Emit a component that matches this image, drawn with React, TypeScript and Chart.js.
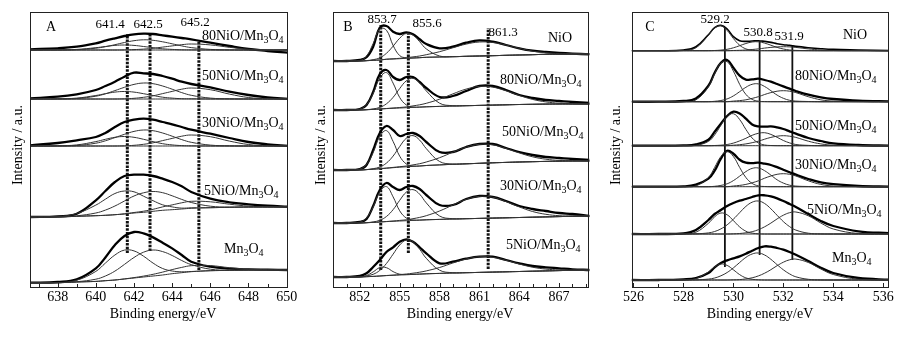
import React, { useEffect, useRef } from "react";
import { Chart, registerables } from "chart.js";
Chart.register(...registerables);

const FONT = "'Liberation Serif', 'Times New Roman', serif";

// ---------------- Panel A : Mn 2p ----------------
const GRID_A = [636.55, 638, 639, 640, 640.5, 641, 641.5, 642, 642.5, 643, 643.5, 644, 644.5, 645, 646, 647, 648, 649, 650.1];
const TICKS_A = [638, 640, 642, 644, 646, 648, 650];
const NAMES_A = ["80NiO/Mn3O4", "50NiO/Mn3O4", "30NiO/Mn3O4", "5NiO/Mn3O4", "Mn3O4"];
const OFFSET_A = [237, 188, 141, 70, 4.3];
const PEAKS_A = ["641.4", "642.5", "645.2"];
const LINE_X_A = [641.65, 642.84, 645.4];
const LINE_LO_A = [34, 36, 17];
const LINE_HI_A = [253, 252, 247];

const A80_DATA = [0.7, 1.7, 3.3, 6.7, 9.3, 11.7, 14, 15.7, 16.3, 16, 14.7, 13.3, 12, 10.7, 7.3, 4, 1, -1, -2.7];
const A80_C1 = [0, 0.1, 0.6, 2.3, 3.5, 4.6, 5, 4.6, 3.5, 2.3, 1.2, 0.6, 0.2, 0.1, 0, 0, 0, 0, 0];
const A80_C2 = [0, 0, 0.3, 1.8, 3.3, 5.3, 7.5, 9.3, 10.2, 9.7, 8.2, 6.2, 4.1, 2.4, 0.6, 0.1, 0, 0, 0];
const A80_C3 = [0, 0, 0, 0, 0, 0, 0.1, 0.4, 0.9, 1.7, 2.9, 4.1, 5.3, 6, 5.1, 2.7, 0.8, 0.1, 0];

const A50_DATA = [0.7, 2.3, 4.7, 9, 13, 17.3, 22.3, 26.3, 25.7, 25, 23, 20.3, 17.3, 15, 11.7, 7.3, 4, 1.7, 0];
const A50_C1 = [0, 0.2, 0.9, 3.5, 5.3, 6.9, 7.5, 6.9, 5.3, 3.5, 1.8, 0.9, 0.3, 0.2, 0, 0, 0, 0, 0];
const A50_C2 = [0, 0, 0.5, 2.8, 5.2, 8.4, 11.7, 14.6, 16, 15.3, 13, 9.8, 6.4, 3.7, 0.9, 0.2, 0, 0, 0];
const A50_C3 = [0, 0, 0, 0, 0, 0, 0.2, 0.7, 1.7, 3.2, 5.4, 7.6, 9.8, 11, 9.3, 4.9, 1.5, 0.2, 0];

const A30_DATA = [0.7, 3, 5.7, 9, 13, 19, 24, 26.3, 27.3, 26.3, 24, 21.7, 19, 16.3, 12.3, 8, 4, 1.7, 0];
const A30_C1 = [0, 0.2, 1.1, 4.4, 6.7, 8.7, 9.5, 8.7, 6.7, 4.4, 2.3, 1.1, 0.4, 0.2, 0, 0, 0, 0, 0];
const A30_C2 = [0, 0, 0.5, 2.8, 5.2, 8.4, 11.7, 14.6, 16, 15.3, 13, 9.8, 6.4, 3.7, 0.9, 0.2, 0, 0, 0];
const A30_C3 = [0, 0, 0, 0, 0, 0, 0.2, 0.7, 1.7, 3.2, 5.4, 7.6, 9.8, 11, 9.3, 4.9, 1.5, 0.2, 0];

const A5_DATA = [0, 0.7, 3.3, 16.7, 26, 35, 41, 42.3, 42.3, 41, 38.3, 35, 30.7, 25, 18.3, 14.7, 12.7, 11.3, 10.3];
const A5_BG = [0, 0, 0.7, 1.3, 1.7, 2.3, 3, 4, 4.7, 5.7, 6.7, 7.3, 8, 8.7, 9.3, 9.7, 10, 10, 10];
const A5_C1 = [0, 0.5, 2.8, 10.6, 16.1, 21.2, 23, 21.2, 16.1, 10.6, 5.5, 2.8, 0.9, 0.5, 0, 0, 0, 0, 0];
const A5_C2 = [0, 0.1, 0.5, 2.7, 5.2, 8.7, 13, 17, 19.5, 19.8, 17.6, 13.9, 9.6, 5.8, 1.5, 0.2, 0, 0, 0];
const A5_C3 = [0, 0, 0, 0, 0, 0, 0.2, 0.5, 1.1, 2, 3.4, 4.8, 6.2, 7, 5.9, 3.1, 0.9, 0.2, 0];

const AMN_DATA = [0, 0.7, 3.3, 14.3, 25.3, 37.7, 46.7, 50.7, 49.3, 45.3, 40, 34.3, 27.7, 21, 16, 14, 13.3, 13, 12.7];
const AMN_BG = [0, 0, 0.7, 1.3, 2, 2.7, 3.7, 4.7, 5.7, 6.7, 7.7, 9, 10, 11, 12, 12.3, 12.7, 12.7, 12.7];
const AMN_C1 = [0, 0.1, 1.8, 10, 17.6, 25, 28.9, 27.1, 20.8, 12.9, 6.5, 2.7, 0.9, 0.2, 0, 0, 0, 0, 0];
const AMN_C2 = [0, 0, 0.3, 2.2, 4.7, 8.9, 14.6, 20.5, 24.8, 26, 23.4, 18.2, 12.2, 7.1, 1.5, 0.2, 0, 0, 0];
const AMN_C3 = [0, 0, 0, 0, 0, 0, 0.1, 0.4, 0.9, 1.7, 2.9, 4.1, 5.3, 6, 5.1, 2.7, 0.8, 0.1, 0];

// ---------------- Panel B : Ni 2p ----------------
const GRID_B = [850, 851, 852, 852.5, 853, 853.5, 854, 854.5, 855, 855.5, 856, 856.5, 857, 858, 859, 860, 861, 862, 863, 864, 865, 866, 867, 868, 869.3];
const TICKS_B = [852, 855, 858, 861, 864, 867];
const NAMES_B = ["NiO", "80NiO/Mn3O4", "50NiO/Mn3O4", "30NiO/Mn3O4", "5NiO/Mn3O4"];
const OFFSET_B = [226, 177, 117, 64, 10];
const PEAKS_B = ["853.7", "855.6", "861.3"];
const LINE_X_B = [853.57, 855.65, 861.66];
const LINE_LO_B = [17, 34, 18];
const LINE_HI_B = [262, 253, 259];

const BNIO_DATA = [0, 0, 1, 3.7, 14.3, 33.5, 35, 29.3, 27, 28.7, 26.7, 21.7, 17, 12.7, 14.3, 18.3, 20.7, 19.3, 16, 12.7, 10.3, 9, 8, 7.3, 6.7];
const BNIO_BG = [0, 0, 0, 0.3, 0.7, 1, 1.7, 2, 2.3, 2.7, 3, 3.3, 3.7, 4, 4.3, 4.7, 5, 5.3, 5.7, 6, 6.3, 6.7, 6.7, 7, 7];
const BNIO_C1 = [0, 0, 0.6, 4.5, 16.7, 31.2, 29.1, 13.6, 3.1, 0.4, 0, 0, 0, 0, 0, 0, 0, 0, 0, 0, 0, 0, 0, 0, 0];
const BNIO_C2 = [0, 0, 0, 0.1, 0.6, 2.2, 6, 12.8, 20.5, 24.9, 22.9, 16, 8.4, 1, 0, 0, 0, 0, 0, 0, 0, 0, 0, 0, 0];
const BNIO_C3 = [0, 0, 0, 0, 0, 0, 0.1, 0.2, 0.4, 0.6, 1.1, 1.7, 2.6, 5.3, 8.9, 12.2, 14, 13.2, 10.3, 6.7, 3.6, 1.6, 0.6, 0.2, 0];

const B80_DATA = [0, 0, 1, 5, 18, 36, 40, 33, 30, 33, 33, 28, 22, 13, 14, 19, 24, 24, 20, 15, 12, 10, 9, 8, 7];
const B80_BG = [0, 0, 0, 0.3, 0.6, 1, 1.4, 1.7, 2, 2.3, 2.6, 2.9, 3.2, 3.6, 4, 4.3, 4.6, 4.9, 5.2, 5.5, 5.7, 5.9, 6, 6, 6];
const B80_C1 = [0, 0, 1, 4.9, 15.9, 30.9, 36, 25.2, 10.5, 2.7, 0.4, 0, 0, 0, 0, 0, 0, 0, 0, 0, 0, 0, 0, 0, 0];
const B80_C2 = [0, 0, 0, 0, 0.5, 1.6, 4.8, 10.9, 19.5, 26.9, 29, 24.3, 15.9, 3.2, 0.3, 0, 0, 0, 0, 0, 0, 0, 0, 0, 0];
const B80_C3 = [0, 0, 0, 0, 0, 0, 0.1, 0.3, 0.5, 0.8, 1.5, 2.3, 3.5, 7.2, 12.1, 16.6, 19, 18, 14, 9.1, 4.9, 2.2, 0.8, 0.3, 0];

const B50_DATA = [0, 0, 1, 5, 20, 37, 44, 40, 34, 36, 37, 34, 28, 18, 18, 23, 26, 26, 22, 18, 15, 13, 12, 11, 10];
const B50_BG = [0, 0, 0, 0.4, 0.8, 1.3, 1.8, 2.3, 2.8, 3.2, 3.6, 4, 4.5, 5.1, 5.7, 6.2, 6.7, 7.2, 7.6, 8, 8.3, 8.6, 8.8, 9, 9];
const B50_C1 = [0, 0, 1, 5.1, 16.6, 32.3, 37.6, 26.3, 11, 2.8, 0.4, 0, 0, 0, 0, 0, 0, 0, 0, 0, 0, 0, 0, 0, 0];
const B50_C2 = [0, 0, 0, 0, 0.5, 1.7, 5.1, 11.6, 20.7, 28.6, 30.8, 25.9, 16.9, 3.4, 0.3, 0, 0, 0, 0, 0, 0, 0, 0, 0, 0];
const B50_C3 = [0, 0, 0, 0, 0, 0, 0.1, 0.3, 0.5, 0.8, 1.5, 2.3, 3.5, 7.2, 12.1, 16.6, 19, 18, 14, 9.1, 4.9, 2.2, 0.8, 0.3, 0];

const B30_DATA = [0, 0, 1, 4, 17, 33, 40, 36, 33, 36, 37, 34, 28, 18, 18, 24, 27, 26, 22, 17, 14, 12, 10, 9, 7];
const B30_BG = [0, 0, 0, 0.3, 0.6, 1, 1.4, 1.7, 2, 2.3, 2.6, 2.9, 3.2, 3.6, 4, 4.3, 4.6, 4.9, 5.2, 5.5, 5.8, 6.1, 6.4, 6.7, 7];
const B30_C1 = [0, 0, 0.9, 4.7, 15.4, 30, 35, 24.5, 10.2, 2.6, 0.4, 0, 0, 0, 0, 0, 0, 0, 0, 0, 0, 0, 0, 0, 0];
const B30_C2 = [0, 0, 0, 0, 0.5, 1.7, 5.1, 11.6, 20.7, 28.6, 30.8, 25.9, 16.9, 3.4, 0.3, 0, 0, 0, 0, 0, 0, 0, 0, 0, 0];
const B30_C3 = [0, 0, 0, 0, 0, 0, 0.1, 0.3, 0.6, 0.9, 1.7, 2.7, 4.1, 8.4, 14, 19.3, 22, 20.9, 16.2, 10.6, 5.7, 2.6, 0.9, 0.3, 0];

const B5_DATA = [0, 0, 1, 3.7, 10, 17, 25, 29.7, 35.3, 37.7, 35.3, 29.7, 23.7, 13.7, 15.3, 18.3, 20.3, 20.3, 17, 13.7, 11, 9.7, 8.7, 7.7, 7];
const B5_BG = [0, 0, 0, 0.3, 0.6, 1, 1.4, 1.7, 2, 2.3, 2.6, 2.9, 3.2, 3.6, 4, 4.3, 4.6, 4.9, 5.2, 5.5, 5.8, 6.1, 6.4, 6.7, 7];
const B5_C1 = [0, 0, 0.2, 1.2, 4.5, 8.4, 7.9, 3.7, 0.8, 0.1, 0, 0, 0, 0, 0, 0, 0, 0, 0, 0, 0, 0, 0, 0, 0];
const B5_C2 = [0, 0, 0, 0.7, 2.1, 5.6, 12.1, 21.1, 30, 34.7, 32.6, 24.9, 15.5, 3.2, 0.3, 0, 0, 0, 0, 0, 0, 0, 0, 0, 0];
const B5_C3 = [0, 0, 0, 0, 0, 0, 0.1, 0.2, 0.4, 0.7, 1.2, 1.9, 2.9, 5.9, 10, 13.7, 15.7, 14.8, 11.5, 7.5, 4, 1.8, 0.7, 0.2, 0];

// ---------------- Panel C : O 1s ----------------
const GRID_C = [525.93, 527, 528, 528.5, 529, 529.25, 529.5, 529.75, 530, 530.25, 530.5, 530.75, 531, 531.25, 531.5, 531.75, 532, 532.25, 532.5, 533, 533.5, 534, 535, 536.3];
const TICKS_C = [526, 528, 530, 532, 534, 536];
const NAMES_C = ["NiO", "80NiO/Mn3O4", "50NiO/Mn3O4", "30NiO/Mn3O4", "5NiO/Mn3O4", "Mn3O4"];
const OFFSET_C = [236.3, 185.3, 141.3, 100.3, 53, 7];
const PEAKS_C = ["529.2", "530.8", "531.9"];
const LINE_X_C = [529.66, 531.05, 532.36];
const LINE_LO_C = [20, 32, 27];
const LINE_HI_C = [260, 246, 242];

const CNIO_DATA = [0, 0, 0.7, 4, 16, 23, 25.3, 21.7, 14, 10, 9.3, 9.7, 10, 9.3, 8.3, 7, 6, 5.3, 4.3, 3, 2, 1.3, 0.7, 0];
const CNIO_C1 = [0, 0, 0.2, 2.9, 15.4, 22.7, 25, 20.2, 12.2, 5.5, 1.8, 0.4, 0.1, 0, 0, 0, 0, 0, 0, 0, 0, 0, 0, 0];
const CNIO_C2 = [0, 0, 0, 0, 0, 0.2, 0.6, 1.4, 2.9, 5, 7.2, 8.7, 8.9, 7.6, 5.5, 3.3, 1.7, 0.7, 0.3, 0.1, 0, 0, 0, 0];
const CNIO_C3 = [0, 0, 0, 0, 0, 0, 0, 0, 0.2, 0.4, 0.7, 1.2, 1.8, 2.6, 3.3, 3.8, 4, 3.8, 3.3, 1.8, 0.7, 0.2, 0, 0];

const C80_DATA = [0, 0, 0.7, 3.3, 16, 29, 39, 41.7, 34, 26, 22, 22.3, 23, 21.7, 20, 17.7, 15.3, 13, 10.7, 7, 4.3, 2.7, 1, 0.3];
const C80_C1 = [0, 0, 0, 1.8, 15, 28, 38.9, 40, 30.6, 17.4, 7.3, 2.3, 0.5, 0.1, 0, 0, 0, 0, 0, 0, 0, 0, 0, 0];
const C80_C2 = [0, 0, 0, 0, 0, 0.4, 1.2, 2.8, 5.8, 10, 14.4, 17.4, 17.8, 15.2, 11, 6.6, 3.4, 1.4, 0.6, 0.2, 0, 0, 0, 0];
const C80_C3 = [0, 0, 0, 0, 0, 0, 0, 0, 0.6, 1.1, 1.9, 3.3, 5, 7.2, 9.1, 10.5, 11, 10.5, 9.1, 5, 1.9, 0.6, 0, 0];

const C50_DATA = [0, 0, 0.3, 1.3, 6, 14, 22, 29.7, 34, 32.3, 27, 21.3, 19.3, 19, 19.3, 18.3, 16.7, 14.3, 12, 7.7, 4.7, 2.3, 0.7, 0];
const C50_C1 = [0, 0, 0, 0.3, 4.3, 10.8, 20.4, 29.3, 32, 26.2, 16.3, 7.7, 2.8, 0.7, 0.2, 0, 0, 0, 0, 0, 0, 0, 0, 0];
const C50_C2 = [0, 0, 0, 0, 0, 0.2, 0.5, 1.2, 2.6, 4.8, 7.4, 10.4, 12.4, 13, 11.3, 8.4, 5.2, 2.8, 1.2, 0.3, 0, 0, 0, 0];
const C50_C3 = [0, 0, 0, 0, 0, 0, 0, 0, 0.5, 1, 1.8, 3, 4.5, 6.5, 8.3, 9.5, 10, 9.5, 8.3, 4.5, 1.8, 0.5, 0, 0];

const C30_DATA = [0, 0, 0.3, 2, 8, 16, 28, 36, 33, 27, 24, 23.5, 24, 23, 21.7, 19.5, 17, 14.5, 12, 7.7, 4.3, 2.5, 0.7, 0];
const C30_C1 = [0, 0, 0, 0.8, 9.2, 19.3, 30.2, 35, 30.2, 19.3, 9.2, 3.3, 0.8, 0.2, 0, 0, 0, 0, 0, 0, 0, 0, 0, 0];
const C30_C2 = [0, 0, 0, 0, 0, 0.4, 1.3, 2.9, 6.1, 10.5, 15.1, 18.3, 18.7, 16, 11.6, 6.9, 3.6, 1.5, 0.6, 0.2, 0, 0, 0, 0];
const C30_C3 = [0, 0, 0, 0, 0, 0, 0, 0, 0.7, 1.3, 2.3, 3.9, 5.9, 8.5, 10.7, 12.4, 13, 12.4, 10.7, 5.9, 2.3, 0.7, 0, 0];

const C5_DATA = [0, 0, 0.7, 4, 14, 20, 24, 28, 31, 33.3, 35, 37, 38.7, 38.7, 37.7, 35.7, 33, 30, 27, 20, 13, 8, 2.7, 0.7];
const C5_C1 = [0, 0, 0.1, 1.8, 10.7, 17.2, 21, 19.2, 13.4, 7.1, 2.8, 0.9, 0.2, 0, 0, 0, 0, 0, 0, 0, 0, 0, 0, 0];
const C5_C2 = [0, 0, 0, 0.2, 1.1, 2.5, 5.1, 9.2, 14.8, 21.3, 27.6, 31.8, 33, 30.5, 25.2, 18.7, 12.4, 7.4, 3.9, 0.8, 0.1, 0, 0, 0];
const C5_C3 = [0, 0, 0, 0, 0, 0, 0, 0, 0.2, 0.5, 1.2, 2.3, 4.3, 7.2, 10.9, 15.1, 18.8, 21.3, 22, 18.2, 11, 5, 0.5, 0];

const CMN_DATA = [0, 0, 0.7, 2, 7, 12.7, 17, 19.7, 21.7, 23.7, 26.3, 29.3, 32, 33.7, 33.3, 32, 30.3, 28, 25.3, 19, 12.3, 7, 2, 0.3];
const CMN_C1 = [0, 0, 0.1, 1.4, 8.1, 13.1, 16, 14.6, 10.2, 5.4, 2.1, 0.7, 0.2, 0, 0, 0, 0, 0, 0, 0, 0, 0, 0, 0];
const CMN_C2 = [0, 0, 0, 0.2, 0.9, 2, 4.2, 7.5, 12.1, 17.5, 22.6, 26, 27, 25, 20.7, 15.3, 10.2, 6.1, 3.2, 0.7, 0.1, 0, 0, 0];
const CMN_C3 = [0, 0, 0, 0, 0, 0, 0, 0, 0.2, 0.4, 1.1, 2.2, 4.1, 6.8, 10.3, 14.3, 17.8, 20.2, 20.9, 17.5, 11, 5.5, 0.8, 0];

// ---------------- assembly ----------------
type Spec = { data: number[]; bg?: number[]; comps: number[][]; thin?: boolean };

const SPECS_A: Spec[] = [
  { data: A80_DATA, comps: [A80_C1, A80_C2, A80_C3] },
  { data: A50_DATA, comps: [A50_C1, A50_C2, A50_C3] },
  { data: A30_DATA, comps: [A30_C1, A30_C2, A30_C3] },
  { data: A5_DATA, bg: A5_BG, comps: [A5_C1, A5_C2, A5_C3] },
  { data: AMN_DATA, bg: AMN_BG, comps: [AMN_C1, AMN_C2, AMN_C3] },
];
const SPECS_B: Spec[] = [
  { data: BNIO_DATA, bg: BNIO_BG, comps: [BNIO_C1, BNIO_C2, BNIO_C3] },
  { data: B80_DATA, bg: B80_BG, comps: [B80_C1, B80_C2, B80_C3] },
  { data: B50_DATA, bg: B50_BG, comps: [B50_C1, B50_C2, B50_C3] },
  { data: B30_DATA, bg: B30_BG, comps: [B30_C1, B30_C2, B30_C3] },
  { data: B5_DATA, bg: B5_BG, comps: [B5_C1, B5_C2, B5_C3] },
];
const SPECS_C: Spec[] = [
  { data: CNIO_DATA, comps: [CNIO_C1, CNIO_C2, CNIO_C3], thin: true },
  { data: C80_DATA, comps: [C80_C1, C80_C2, C80_C3] },
  { data: C50_DATA, comps: [C50_C1, C50_C2, C50_C3] },
  { data: C30_DATA, comps: [C30_C1, C30_C2, C30_C3] },
  { data: C5_DATA, comps: [C5_C1, C5_C2, C5_C3] },
  { data: CMN_DATA, comps: [CMN_C1, CMN_C2, CMN_C3] },
];

type Txt = { text: string; x: number; y: number; size: number; align: CanvasTextAlign; chem?: boolean };

type Panel = {
  left: number; width: number; padL: number; padR: number;
  min: number; max: number; grid: number[]; ticks: number[];
  specs: Spec[]; offsets: number[];
  lineX: number[]; lineLo: number[]; lineHi: number[]; dashed: boolean;
  texts: Txt[]; xTitleX: number; yTitleX: number;
};

const PLOT_TOP = 12;
const PLOT_BOTTOM = 287;
const H = 338;

function mkTexts(letter: string, letterX: number, peaks: string[], peakPos: number[][], names: string[], namePos: number[][]): Txt[] {
  const t: Txt[] = [{ text: letter, x: letterX, y: 27, size: 14, align: "center" }];
  peaks.forEach((p, i) => t.push({ text: p, x: peakPos[i][0], y: peakPos[i][1], size: 13, align: "center" }));
  names.forEach((n, i) => t.push({ text: n, x: namePos[i][0], y: namePos[i][1], size: 14, align: n === "NiO" ? "center" : "left", chem: true }));
  return t;
}

const PANELS: Panel[] = [
  {
    left: 0, width: 299, padL: 30, padR: 11, min: 636.55, max: 650.07, grid: GRID_A, ticks: TICKS_A,
    specs: SPECS_A, offsets: OFFSET_A, lineX: LINE_X_A, lineLo: LINE_LO_A, lineHi: LINE_HI_A, dashed: true,
    texts: mkTexts("A", 51, PEAKS_A, [[110, 25], [148, 25], [195, 23]], NAMES_A,
      [[202, 36], [202, 76], [202, 123], [204, 191], [224, 249]]),
    xTitleX: 163, yTitleX: 18,
  },
  {
    left: 300, width: 296, padL: 33.3, padR: 6.6, min: 850, max: 869.28, grid: GRID_B, ticks: TICKS_B,
    specs: SPECS_B, offsets: OFFSET_B, lineX: LINE_X_B, lineLo: LINE_LO_B, lineHi: LINE_HI_B, dashed: true,
    texts: mkTexts("B", 348, PEAKS_B, [[382, 20], [427, 24], [503, 33]], NAMES_B,
      [[560, 38], [500, 80], [502, 132], [500, 186], [506, 245]]),
    xTitleX: 460, yTitleX: 321,
  },
  {
    left: 598, width: 302, padL: 33.7, padR: 11.7, min: 525.93, max: 536.2, grid: GRID_C, ticks: TICKS_C,
    specs: SPECS_C, offsets: OFFSET_C, lineX: LINE_X_C, lineLo: LINE_LO_C, lineHi: LINE_HI_C, dashed: false,
    texts: mkTexts("C", 650, PEAKS_C, [[715, 20], [758, 33], [789, 37]], NAMES_C,
      [[855, 35], [795, 76], [795, 126], [795, 165], [807, 210], [832, 258]]),
    xTitleX: 760, yTitleX: 616,
  },
];

function drawChem(ctx: CanvasRenderingContext2D, text: string, x: number, y: number, size: number, align: CanvasTextAlign) {
  const sub = Math.round(size * 0.7);
  const parts: { ch: string; s: boolean }[] = [];
  for (let i = 0; i < text.length; i++) {
    const ch = text[i];
    parts.push({ ch, s: /\d/.test(ch) && i > 0 && /[A-Za-z]/.test(text[i - 1]) });
  }
  let total = 0;
  parts.forEach((p) => { ctx.font = `${p.s ? sub : size}px ${FONT}`; total += ctx.measureText(p.ch).width; });
  let cx = align === "center" ? x - total / 2 : x;
  ctx.textAlign = "left";
  parts.forEach((p) => {
    ctx.font = `${p.s ? sub : size}px ${FONT}`;
    ctx.fillText(p.ch, cx, p.s ? y + size * 0.32 : y);
    cx += ctx.measureText(p.ch).width;
  });
}

function buildDatasets(p: Panel) {
  const ds: any[] = [];
  const line = (pts: { x: number; y: number }[], w: number, color: string, extra: any = {}) => ({
    data: pts, borderColor: color, borderWidth: w, pointRadius: 0, tension: 0.4, fill: false, ...extra,
  });
  p.specs.forEach((s, k) => {
    const off = p.offsets[k];
    const bg = s.bg || p.grid.map(() => 0);
    ds.push(line(p.grid.map((x, i) => ({ x, y: off + bg[i] })), 1, "#333"));
    s.comps.forEach((c) => ds.push(line(p.grid.map((x, i) => ({ x, y: off + bg[i] + c[i] })), 1, "#333")));
    ds.push(line(p.grid.map((x, i) => ({ x, y: off + s.data[i] })), s.thin ? 1.6 : 2.3, "#000"));
  });
  p.lineX.forEach((lx, i) => {
    ds.push(line([{ x: lx, y: p.lineLo[i] }, { x: lx, y: p.lineHi[i] }], p.dashed ? 3 : 1.8, "#111",
      p.dashed ? { borderDash: [2.5, 1.2], tension: 0 } : { tension: 0 }));
  });
  return ds;
}

function overlay(p: Panel) {
  return {
    id: "overlay",
    afterDraw(chart: any) {
      const { ctx, chartArea } = chart;
      const xs = chart.scales.x;
      const { left, right, top, bottom } = chartArea;
      ctx.save();
      ctx.strokeStyle = "#222";
      ctx.lineWidth = 1;
      ctx.strokeRect(Math.round(left) + 0.5, Math.round(top) + 0.5, Math.round(right - left) - 1, Math.round(bottom - top));
      ctx.beginPath();
      for (let v = Math.ceil(p.min); v <= p.max; v += 1) {
        const px = Math.round(xs.getPixelForValue(v)) + 0.5;
        const len = p.ticks.includes(v) ? 4 : 3;
        ctx.moveTo(px, bottom);
        ctx.lineTo(px, bottom - len);
      }
      ctx.stroke();
      ctx.fillStyle = "#000";
      ctx.textBaseline = "middle";
      ctx.textAlign = "center";
      ctx.font = `14px ${FONT}`;
      p.ticks.forEach((v) => ctx.fillText(String(v), xs.getPixelForValue(v), 297));
      ctx.fillText("Binding energy/eV", p.xTitleX - p.left, 314);
      ctx.save();
      ctx.translate(p.yTitleX - p.left, 145);
      ctx.rotate(-Math.PI / 2);
      ctx.fillText("Intensity / a.u.", 0, 0);
      ctx.restore();
      p.texts.forEach((t) => {
        if (t.chem) {
          drawChem(ctx, t.text, t.x - p.left, t.y, t.size, t.align);
        } else {
          ctx.font = `${t.size}px ${FONT}`;
          ctx.textAlign = t.align;
          ctx.fillText(t.text, t.x - p.left, t.y);
        }
      });
      ctx.restore();
    },
  };
}

function PanelChart({ p }: { p: Panel }) {
  const ref = useRef<HTMLCanvasElement>(null);
  useEffect(() => {
    if (!ref.current) return;
    const chart = new Chart(ref.current, {
      type: "line",
      data: { datasets: buildDatasets(p) },
      options: {
        responsive: false,
        animation: false,
        devicePixelRatio: 1,
        layout: { padding: { left: p.padL, right: p.padR, top: PLOT_TOP, bottom: H - PLOT_BOTTOM } },
        plugins: { legend: { display: false }, tooltip: { enabled: false } },
        scales: {
          x: { type: "linear", min: p.min, max: p.max, display: false },
          y: { type: "linear", min: 0, max: PLOT_BOTTOM - PLOT_TOP, display: false },
        },
      } as any,
      plugins: [overlay(p)],
    });
    return () => chart.destroy();
  }, [p]);
  return (
    <canvas ref={ref} width={p.width} height={H}
      style={{ position: "absolute", left: p.left, top: 0, width: p.width, height: H }} />
  );
}

export default function App() {
  return (
    <div style={{ position: "absolute", left: 0, top: 0, width: 900, height: H, background: "#fff", overflow: "hidden" }}>
      {PANELS.map((p, i) => <PanelChart key={i} p={p} />)}
    </div>
  );
}
